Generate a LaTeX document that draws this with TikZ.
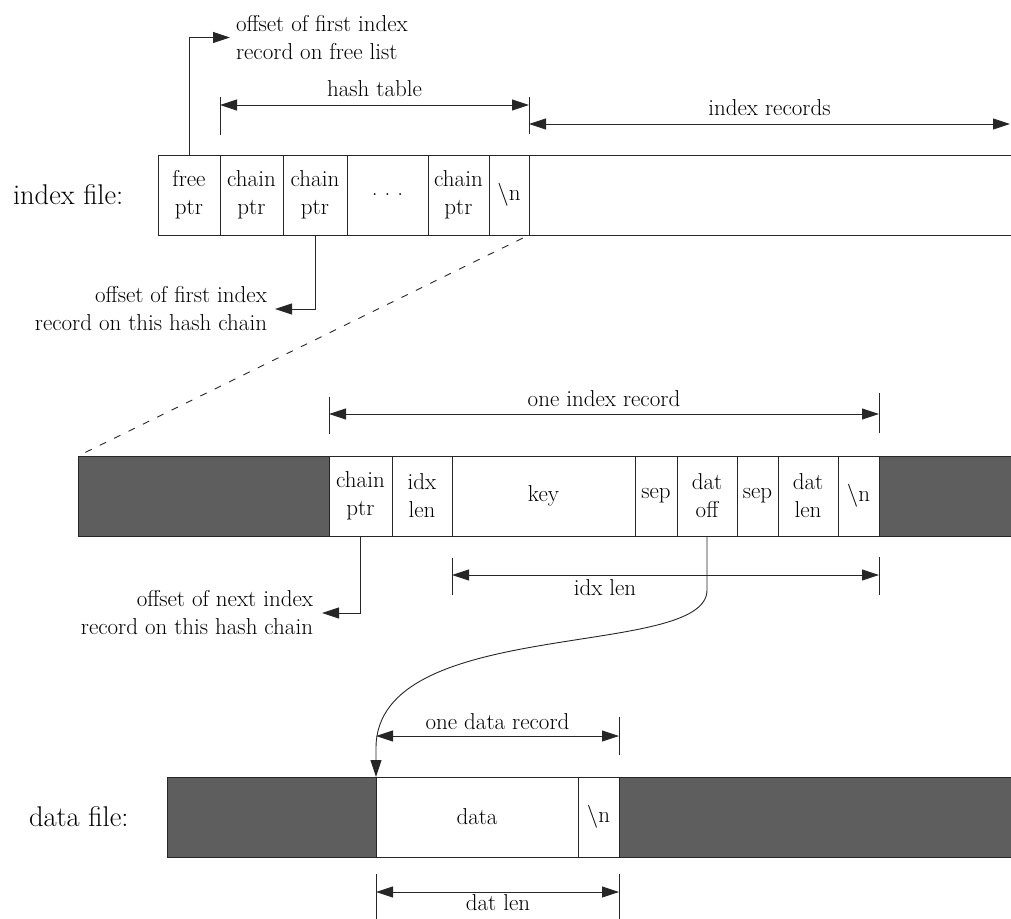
\documentclass[tikz,border=0pt]{standalone}
\usetikzlibrary{arrows.meta}
\definecolor{darkfill}{gray}{0.37}
\definecolor{ln}{gray}{0.15}
\begin{document}
\begin{tikzpicture}[x=1pt,y=-1pt,
  every node/.style={inner sep=0pt, outer sep=0pt},
  small/.style={font=\fontsize{23}{28}\selectfont},
  big/.style={font=\fontsize{28.5}{33}\selectfont},
  cell/.style={draw=ln, line width=0.8pt, minimum height=80pt, align=center, small},
  dark/.style={fill=darkfill, draw=ln, line width=0.8pt, minimum height=80pt},
  ln/.style={draw=ln, line width=0.9pt},
  tick/.style={draw=ln, line width=0.8pt},
  tip/.style={ln, -{Triangle[length=17pt,width=11pt]}},
  dim/.style={ln, {Triangle[length=17pt,width=11pt]}-{Triangle[length=17pt,width=11pt]}},
  dashline/.style={draw=ln, line width=0.9pt, dash pattern=on 7pt off 9pt}
]
\useasboundingbox (0,0) rectangle (1011,918);

% ---------------- index file ----------------
\node[big, anchor=west] (lblidx) at (13,195) {index file:};
\node[cell, minimum width=62pt] (free) at (189,195) {free\\ptr};
\node[cell, minimum width=63pt] (ch1) at (251.5,195) {chain\\ptr};
\node[cell, minimum width=64pt] (ch2) at (315,195) {chain\\ptr};
\node[cell, minimum width=81pt] (dots) at (387.5,195) {.\ .\ .};
\node[cell, minimum width=61pt] (ch3) at (458.5,195) {chain\\ptr};
\node[cell, minimum width=40pt] (inl) at (509,195) {\textbackslash n};
\coordinate (irTop) at (1011,155);
\coordinate (irBot) at (1011,235);
\draw[ln] (inl.north east) -- (irTop);
\draw[ln] (inl.south east) -- (irBot);

% labels and pointers of index file
\node[small, anchor=west, align=left] (lblfree) at (236,37.5) {offset of first index\\record on free list};
\draw[tip, shorten >=6pt] (free.north) |- (lblfree.west);

\node[small, anchor=east, align=right] (lblfirst) at (267,309) {offset of first index\\record on this hash chain};
\draw[tip, shorten >=8pt] (ch2.south) |- (lblfirst.east);

% hash table / index records dimensions
\coordinate (htL) at (220,105);
\coordinate (htR) at (529,105);
\coordinate (irL) at (529,124);
\coordinate (irR) at (1010,124);
\draw[tick] (220,97) -- (220,135);
\draw[tick] (529,97) -- (529,134);
\draw[dim] (htL) -- (htR) node[midway, above=8pt, small] (lblht) {hash table};
\draw[dim] (irL) -- (irR) node[midway, above=8pt, small] (lblir) {index records};

% ---------------- one index record ----------------
\node[dark, minimum width=251pt] (mL) at (203.5,496) {};
\node[cell, minimum width=63pt] (mch) at (360.5,496) {chain\\ptr};
\node[cell, minimum width=60pt] (midx) at (422,496) {idx\\len};
\node[cell, minimum width=183pt] (mkey) at (543.5,496) {key};
\node[cell, minimum width=42pt] (msep1) at (656,496) {sep};
\node[cell, minimum width=60pt] (doff) at (707,496) {dat\\off};
\node[cell, minimum width=41pt] (msep2) at (757.5,496) {sep};
\node[cell, minimum width=60pt] (mdlen) at (808,496) {dat\\len};
\node[cell, minimum width=41pt] (mnl) at (858.5,496) {\textbackslash n};
\node[dark, minimum width=132pt] (mR) at (945,496) {};

% dashed zoom line
\draw[dashline, shorten <=7pt, shorten >=8pt] (inl.south east) -- (mL.north west);

% one index record dimension
\coordinate (oirL) at (329,414);
\coordinate (oirR) at (879,414);
\draw[tick] (329,397) -- (329,434);
\draw[tick] (879,393) -- (879,433);
\draw[dim] (oirL) -- (oirR) node[midway, above=7pt, small] (lbloir) {one index record};

% idx len dimension
\coordinate (ilL) at (452,575);
\coordinate (ilR) at (879,575);
\draw[tick] (452,558) -- (452,595);
\draw[tick] (879,557) -- (879,595);
\draw[dim] (ilL) -- (ilR);
\node[small, anchor=north] (lblil) at (605,580) {idx len};

% next index pointer
\node[small, anchor=east, align=right] (lblnext) at (313,613) {offset of next index\\record on this hash chain};
\draw[tip, shorten >=9pt] (mch.south) |- (lblnext.east);

% ---------------- data file ----------------
\node[big, anchor=west] (lbldata) at (29,817) {data file:};
\node[dark, minimum width=209pt] (dL) at (271.5,817) {};
\node[cell, minimum width=202pt] (data) at (477,817) {data};
\node[cell, minimum width=41pt] (dnl) at (598.5,817) {\textbackslash n};
\node[dark, minimum width=392pt] (dR) at (815,817) {};

% dat off pointer curve
\coordinate (cv1) at (707,590);
\coordinate (cv2) at (376,748);
\draw[tip] (doff.south) -- (cv1) .. controls (707,660) and (376,615) .. (cv2) -- (data.north west);

% one data record dimension
\coordinate (odrL) at (376,736);
\coordinate (odrR) at (619,736);
\draw[tick] (619,717) -- (619,755);
\draw[dim] (odrL) -- (odrR) node[midway, above=6pt, small] (lblodr) {one data record};

% dat len dimension
\coordinate (dlL) at (376,892);
\coordinate (dlR) at (619,892);
\draw[tick] (376,874) -- (376,925);
\draw[tick] (619,874) -- (619,925);
\draw[dim] (dlL) -- (dlR);
\node[small, anchor=north] (lbldl) at (498,895) {dat len};
\end{tikzpicture}
\end{document}
